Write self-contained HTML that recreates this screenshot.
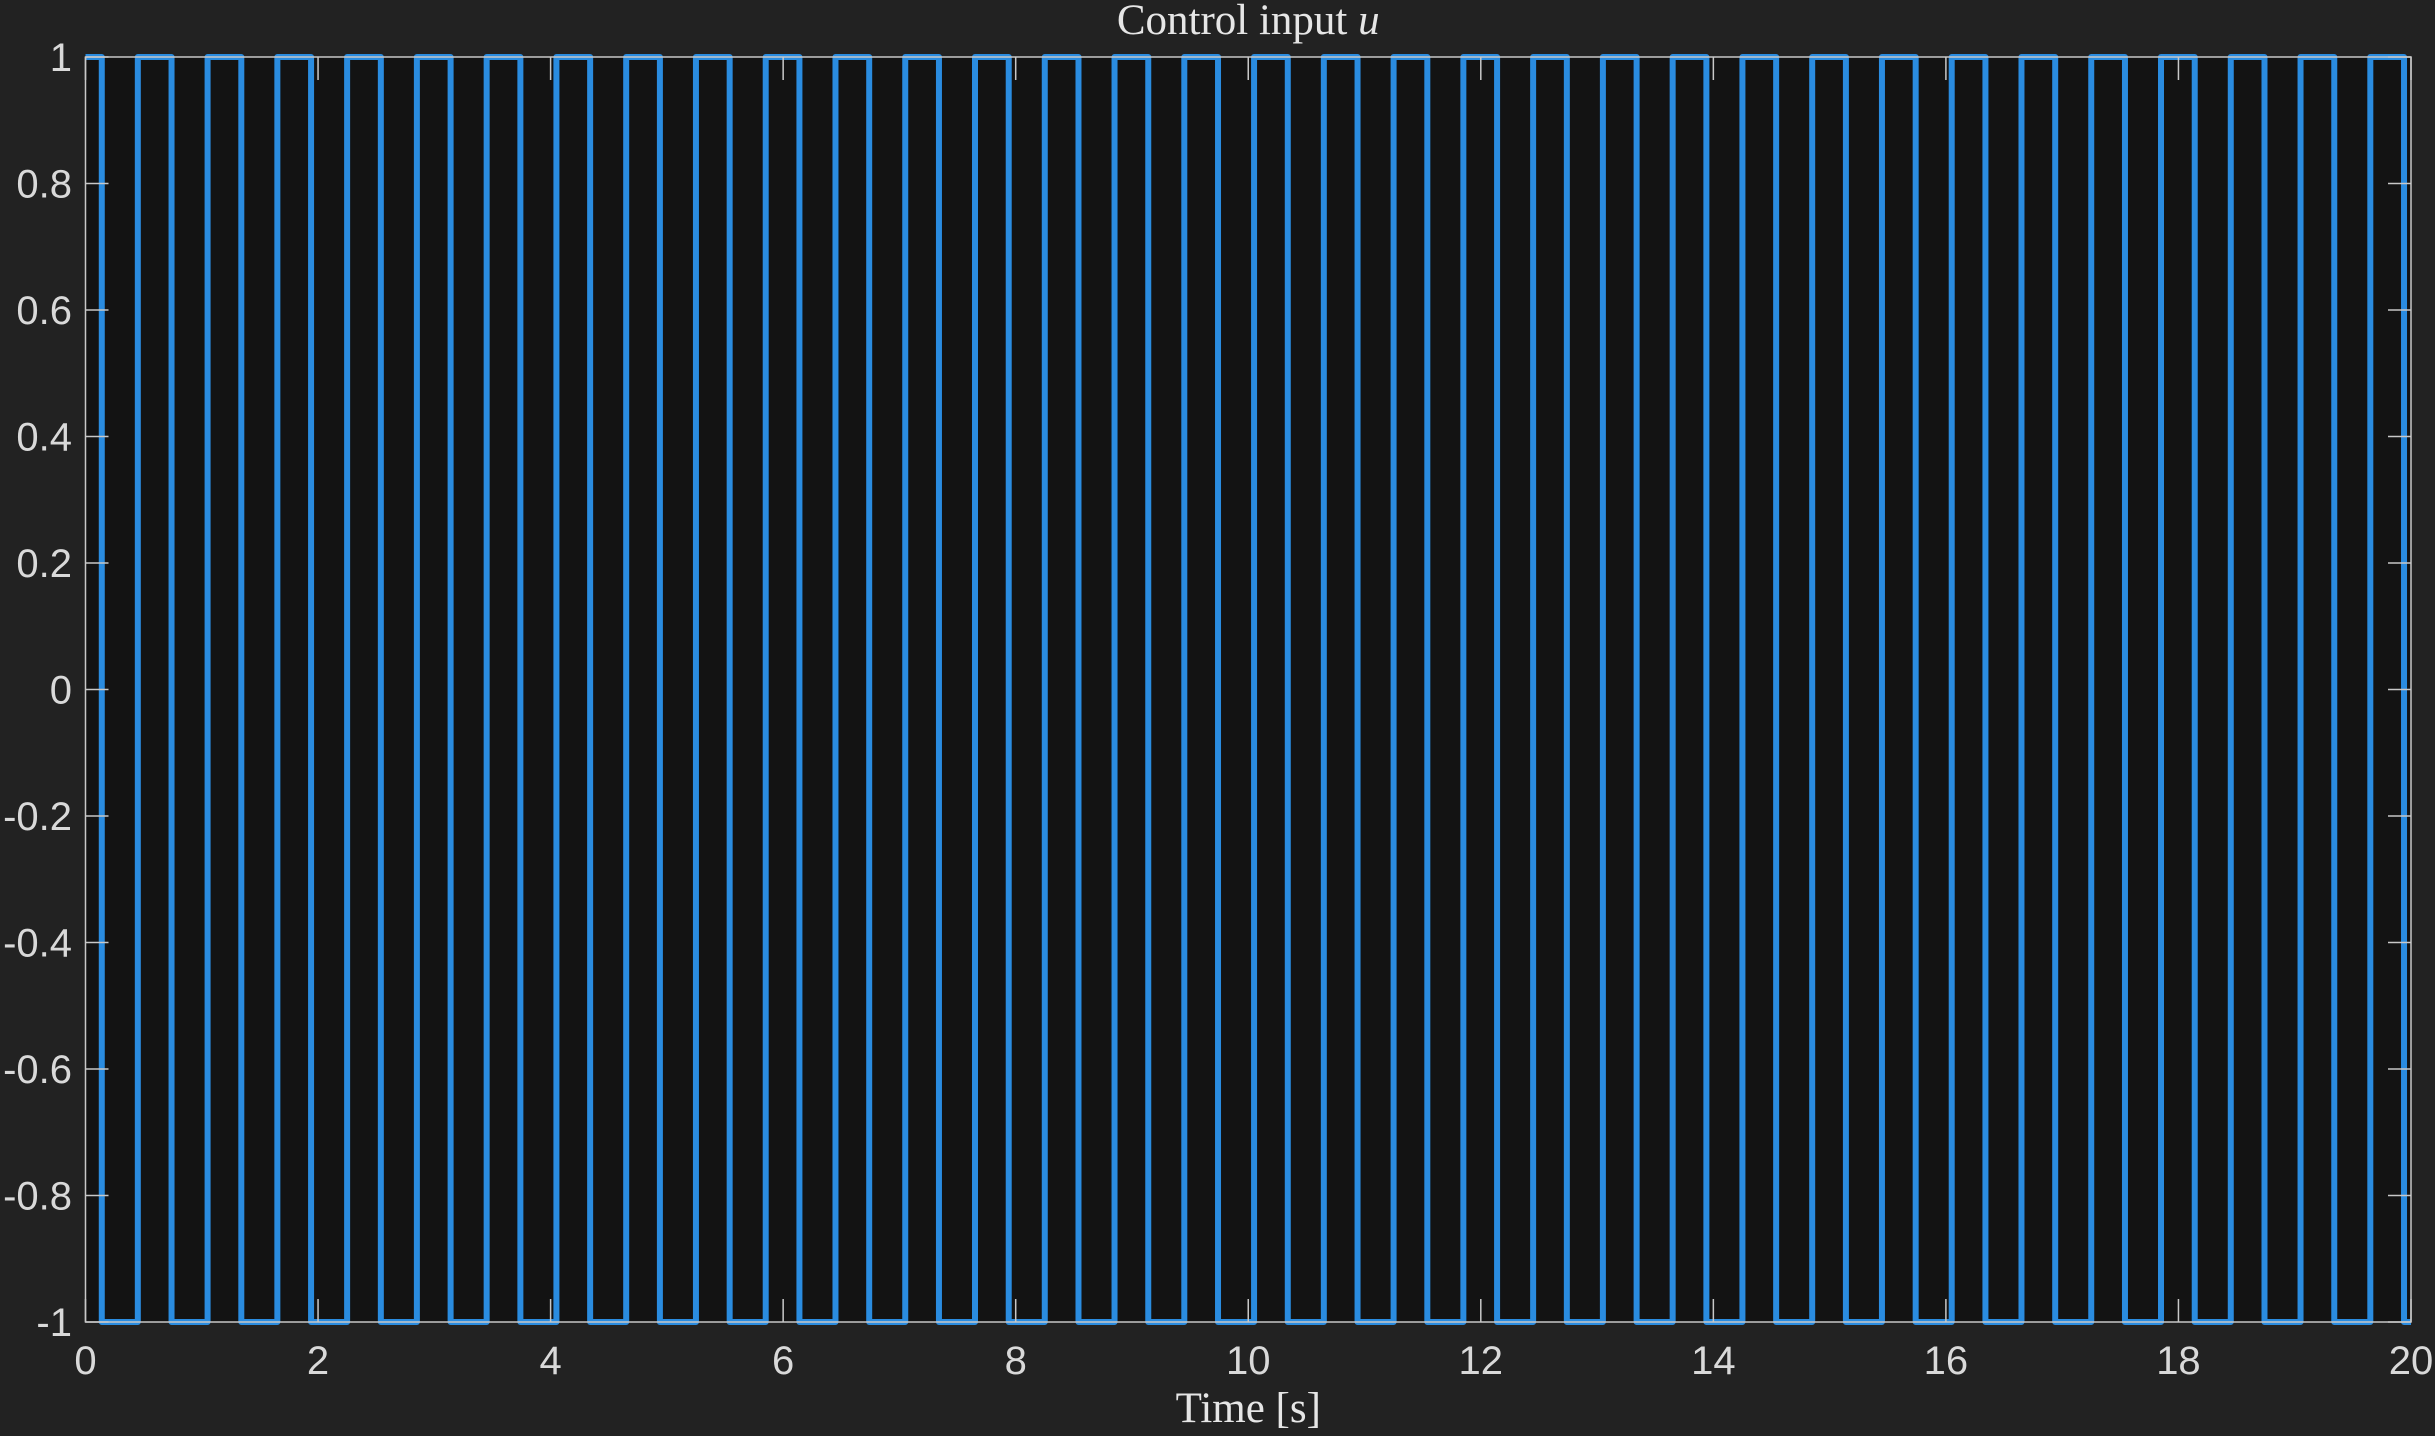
<!DOCTYPE html>
<html><head><meta charset="utf-8"><style>
html,body{margin:0;padding:0;background:#222222;}
svg{display:block;}
</style></head><body>
<svg id="chart" width="2435" height="1436" xmlns="http://www.w3.org/2000/svg">
<rect x="0" y="0" width="2435" height="1436" fill="#222222"/>
<g id="g"></g>
</svg>
<script>
const riseTimes=[0.45,1.05,1.65,2.25,2.85,3.45,4.05,4.65,5.25,5.85,6.45,7.05,7.65,8.25,8.85,9.45,10.05,10.65,11.25,11.85,12.45,13.05,13.65,14.25,14.85,15.45,16.05,16.65,17.25,17.85,18.45,19.05,19.65];
const fallTimes=[0.14,0.74,1.34,1.94,2.54,3.14,3.74,4.34,4.94,5.54,6.14,6.74,7.34,7.94,8.54,9.14,9.74,10.34,10.94,11.54,12.14,12.74,13.34,13.94,14.54,15.14,15.74,16.34,16.94,17.54,18.14,18.74,19.34,19.94];
const xTicks=[0,2,4,6,8,10,12,14,16,18,20];
const yTicks=[-1,-0.8,-0.6,-0.4,-0.2,0,0.2,0.4,0.6,0.8,1];
const yTickLabels=["-1","-0.8","-0.6","-0.4","-0.2","0","0.2","0.4","0.6","0.8","1"];
const L=85.5,R=2411,T=57,B=1322;
const sx=t=>L+(t/20)*(R-L);
const sy=v=>B-((v+1)/2)*(B-T);
const NS="http://www.w3.org/2000/svg";
const g=document.getElementById('g');
function mk(tag,attrs){const e=document.createElementNS(NS,tag);for(const k in attrs)e.setAttribute(k,attrs[k]);g.appendChild(e);return e;}
const bg=mk('rect',{x:L,y:T,width:R-L,height:B-T,fill:'#131313'});


let ev=[];fallTimes.forEach(t=>ev.push([t,-1]));riseTimes.forEach(t=>ev.push([t,1]));ev.sort((a,b)=>a[0]-b[0]);
let v=1,d='M'+sx(0)+','+sy(v);
ev.forEach(([t,nv])=>{d+=' L'+sx(t)+','+sy(v)+' L'+sx(t)+','+sy(nv);v=nv;});
d+=' L'+sx(20)+','+sy(v);
const defs=document.createElementNS(NS,'defs');defs.innerHTML='<clipPath id="clip"><rect x="'+(L)+'" y="'+(T-5)+'" width="'+(R-L)+'" height="'+(B-T+10)+'"/></clipPath>';document.getElementById('chart').insertBefore(defs,g);
const line=mk('path',{d:d,fill:'none',stroke:'#2a8ce0','stroke-width':6,'stroke-linejoin':'round','clip-path':'url(#clip)'});


const box=mk('rect',{x:L,y:T,width:R-L,height:B-T,fill:'none',stroke:'#c8c8c8','stroke-width':1.5});


xTicks.forEach(t=>{
  const x=sx(t);
  const tk=mk('path',{d:`M${x},${B} V${B-23} M${x},${T} V${T+23}`,stroke:'#c8c8c8','stroke-width':1.5});
  
  
  const tx=mk('text',{x:x,y:1374,'text-anchor':'middle','font-family':'Liberation Sans, sans-serif','font-size':40,fill:'#d9d9d9'});
  tx.textContent=String(t);
  
  
});
yTicks.forEach((t,i)=>{
  const y=sy(t);
  const tk=mk('path',{d:`M${L},${y} H${L+23} M${R},${y} H${R-23}`,stroke:'#c8c8c8','stroke-width':1.5});
  
  
  const tx=mk('text',{x:72,y:y+14,'text-anchor':'end','font-family':'Liberation Sans, sans-serif','font-size':40,fill:'#d9d9d9'});
  tx.textContent=yTickLabels[i];
  
  
});
const title=mk('text',{x:(L+R)/2,y:34,'text-anchor':'middle','font-family':'Liberation Serif, serif','font-size':43,fill:'#e6e6e6'});
title.innerHTML='Control input <tspan font-style="italic">u</tspan>';


const xl=mk('text',{x:(L+R)/2,y:1422,'text-anchor':'middle','font-family':'Liberation Serif, serif','font-size':43,fill:'#e6e6e6'});
xl.textContent='Time [s]';


</script>
</body></html>
